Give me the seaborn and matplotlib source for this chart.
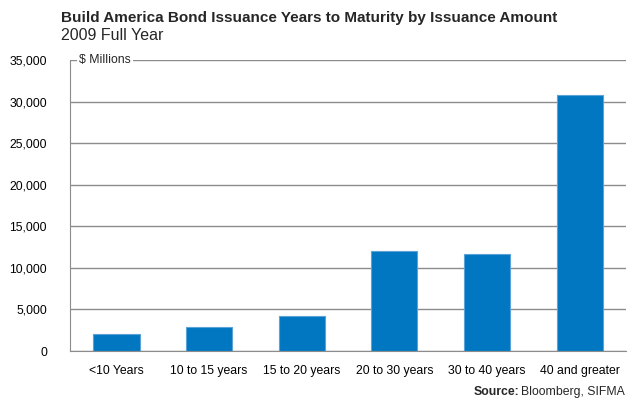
import matplotlib
matplotlib.use("Agg")
import matplotlib.pyplot as plt
import seaborn as sns
import pandas as pd
from matplotlib.ticker import FuncFormatter

categories = ["<10 Years", "10 to 15 years", "15 to 20 years", "20 to 30 years", "30 to 40 years", "40 and greater"]
values = [2000, 2850, 4200, 12050, 11650, 30850]
yticks = [0, 5000, 10000, 15000, 20000, 25000, 30000, 35000]

sns.set_style("white")
plt.rcParams['font.family'] = ['Liberation Sans', 'DejaVu Sans']

df = pd.DataFrame({"cat": categories, "val": values})

fig = plt.figure(figsize=(6.33, 4.0), dpi=100)
ax = fig.add_axes([70/633, 1 - 351/400, 556/633, 291/400])

sns.barplot(data=df, x="cat", y="val", ax=ax, color="#0077C0", width=0.5,
            edgecolor="#5AA2D8", linewidth=0.8, saturation=1)

ax.set_ylim(0, 35000)
ax.set_yticks(yticks)
ax.yaxis.set_major_formatter(FuncFormatter(lambda v, p: f"{int(v):,}"))
ax.grid(axis="y", color="#8C8C8C", linewidth=1)
ax.set_axisbelow(True)
for s in ["top", "right"]:
    ax.spines[s].set_visible(False)
ax.spines["left"].set_color("#8C8C8C")
ax.spines["bottom"].set_color("#8C8C8C")
ax.tick_params(axis="y", length=0, pad=16.5, labelsize=8.8, colors="#000000")
ax.tick_params(axis="x", length=0, pad=10, labelsize=8.8, colors="#000000")
ax.set_xlabel("")
ax.set_ylabel("")

ax.text(0.016, 35000, "$ Millions", transform=ax.get_yaxis_transform(), ha="left", va="center",
        fontsize=8.8, bbox=dict(facecolor="white", edgecolor="none", pad=1.5))

fig.text(61/633, 1 - 18/400, "Build America Bond Issuance Years to Maturity by Issuance Amount",
         fontsize=11, fontweight="bold", ha="left", va="center")
fig.text(61/633, 1 - 36/400, "2009 Full Year", fontsize=11.5, ha="left", va="center")

src = fig.text(625/633, 1 - 392/400, "Bloomberg, SIFMA", fontsize=8.8, ha="right", va="center")
fig.canvas.draw()
bb = src.get_window_extent()
fig.text(bb.x0 / fig.bbox.width - 0.003, 1 - 392/400, "Source:", fontsize=8.8, fontweight="bold",
         ha="right", va="center")

fig.savefig("out.png", dpi=100)
